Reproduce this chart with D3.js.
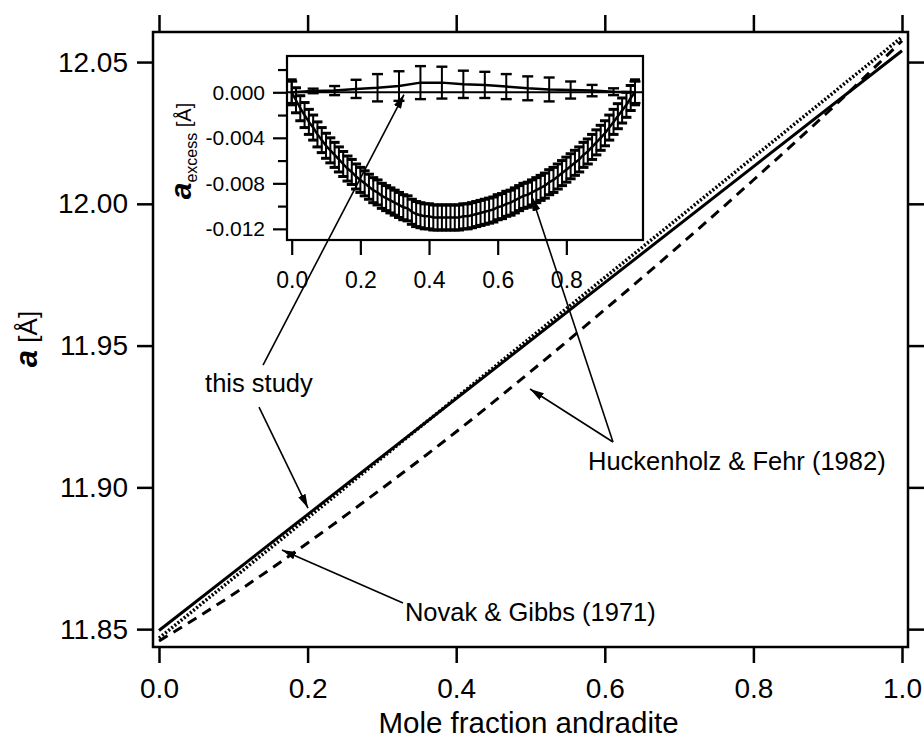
<!doctype html>
<html>
<head>
<meta charset="utf-8">
<title>cell parameter a vs mole fraction andradite</title>
<script src="https://cdn.jsdelivr.net/npm/d3@7/dist/d3.min.js"></script>
<style>
  body { margin: 0; background: #fff; }
  svg { display: block; font-family: "Liberation Sans", Arial, Helvetica, sans-serif; }
  .axis path { display: none; }
  .axis line { stroke: #000; stroke-width: 2.5; }
  .axis text { fill: #000; }
  .frame { fill: none; stroke: #000; stroke-width: 2.5; }
</style>
</head>
<body>
<script>
// ---- main plot data (a in Angstrom vs mole fraction andradite)
var endX   = [0, 1];
var studyA = [11.8495, 12.0540];          // this study, solid
var novakA = [11.8468, 12.0588];          // Novak & Gibbs (1971), dotted
var hfX    = [0, 0.1, 0.2, 0.3, 0.4, 0.5, 0.6, 0.7, 0.8, 0.9, 1.0];
var hfA    = [11.8458, 11.8623, 11.8804, 11.8996, 11.9196, 11.9408,
              11.9627, 11.9852, 12.0084, 12.0323, 12.0575];   // Huckenholz & Fehr, dashed
var xTicks = [0, 0.2, 0.4, 0.6, 0.8, 1.0];
var yTicks = [11.85, 11.90, 11.95, 12.00, 12.05];

// ---- inset data (excess a)
var studyExX  = [0, 0.0625, 0.125, 0.1875, 0.25, 0.3125, 0.375, 0.4375, 0.5,
                 0.5625, 0.625, 0.6875, 0.75, 0.8125, 0.875, 0.9375, 1.0];
var studyEx   = [0, 0.00012, 0.00015, 0.0003, 0.0004, 0.00055, 0.00085, 0.00085, 0.0007,
                 0.00065, 0.0005, 0.00035, 0.00025, 0.0002, 0.00015, 0.00005, 0];
var studyErr  = [0.00095, 0.0002, 0.0004, 0.0008, 0.0012, 0.0013, 0.00145, 0.0014, 0.0012,
                 0.00115, 0.0011, 0.00105, 0.00105, 0.00075, 0.0005, 0.0003, 0.00095];
var hfExX = [0, 0.0125, 0.025, 0.0375, 0.05, 0.0625, 0.075, 0.0875, 0.1, 0.1125,
             0.125, 0.1375, 0.15, 0.1625, 0.175, 0.1875, 0.2, 0.2125, 0.225, 0.2375,
             0.25, 0.2625, 0.275, 0.2875, 0.3, 0.3125, 0.325, 0.3375, 0.35, 0.3625,
             0.375, 0.3875, 0.4, 0.4125, 0.425, 0.4375, 0.45, 0.4625, 0.475, 0.4875,
             0.5, 0.5125, 0.525, 0.5375, 0.55, 0.5625, 0.575, 0.5875, 0.6, 0.6125,
             0.625, 0.6375, 0.65, 0.6625, 0.675, 0.6875, 0.7, 0.7125, 0.725, 0.7375,
             0.75, 0.7625, 0.775, 0.7875, 0.8, 0.8125, 0.825, 0.8375, 0.85, 0.8625,
             0.875, 0.8875, 0.9, 0.9125, 0.925, 0.9375, 0.95, 0.9625, 0.975, 0.9875, 1.0];
var hfEx = [0, -0.0007, -0.0014, -0.0020, -0.0026, -0.0031, -0.0037, -0.0042, -0.0047, -0.0051,
            -0.0055, -0.0059, -0.0063, -0.0067, -0.0070, -0.0074, -0.0077, -0.0080, -0.0083, -0.0086,
            -0.0088, -0.0091, -0.0093, -0.0095, -0.0097, -0.0099, -0.0101, -0.0102, -0.0105, -0.0107,
            -0.0108, -0.0109, -0.0109, -0.0110, -0.0110, -0.0110, -0.0110, -0.0110, -0.0110, -0.0110,
            -0.0109, -0.0109, -0.0108, -0.0107, -0.0106, -0.0105, -0.0104, -0.0103, -0.0101, -0.0100,
            -0.0098, -0.0097, -0.0095, -0.0093, -0.0091, -0.0090, -0.0088, -0.0086, -0.0084, -0.0082,
            -0.0079, -0.0077, -0.0074, -0.0071, -0.0068, -0.0065, -0.0062, -0.0059, -0.0055, -0.0052,
            -0.0048, -0.0044, -0.0040, -0.0036, -0.0031, -0.0026, -0.0021, -0.0016, -0.0011, -0.0005, 0];
var hfErr = 0.0011;
var insetXTicks = [0, 0.2, 0.4, 0.6, 0.8];
var insetYTicks = [0, -0.004, -0.008, -0.012];
var insetYMinor = [0.002, -0.002, -0.006, -0.010];

var W = 924, H = 738;
var svg = d3.select("body").append("svg").attr("width", W).attr("height", H);

// arrowhead
svg.append("defs").append("marker")
   .attr("id", "arr").attr("viewBox", "0 0 14 8")
   .attr("refX", 14).attr("refY", 4)
   .attr("markerWidth", 14).attr("markerHeight", 8)
   .attr("markerUnits", "userSpaceOnUse").attr("orient", "auto")
   .append("path").attr("d", "M0,0 L14,4 L0,8 Z").attr("fill", "#000");

// ---- main scales
var L = 153, R = 908, T = 32, B = 647;
var x = d3.scaleLinear().domain([-0.00808, 1.00808]).range([L, R]);
var y = d3.scaleLinear().domain([11.8437, 12.0606]).range([B, T]);

svg.append("g").attr("class", "axis").attr("transform", "translate(0," + B + ")")
   .call(d3.axisBottom(x).tickValues(xTicks).tickSize(16).tickPadding(15).tickFormat(d3.format(".1f")))
   .selectAll("text").style("font-size", "28px");
svg.append("g").attr("class", "axis").attr("transform", "translate(0," + T + ")")
   .call(d3.axisTop(x).tickValues(xTicks).tickSize(17).tickFormat(""));
svg.append("g").attr("class", "axis").attr("transform", "translate(" + L + ",0)")
   .call(d3.axisLeft(y).tickValues(yTicks).tickSize(16).tickPadding(9).tickFormat(d3.format(".2f")))
   .selectAll("text").style("font-size", "28px");
svg.append("g").attr("class", "axis").attr("transform", "translate(" + R + ",0)")
   .call(d3.axisRight(y).tickValues(yTicks).tickSize(16).tickFormat(""));

svg.append("rect").attr("class", "frame")
   .attr("x", L).attr("y", T).attr("width", R - L).attr("height", B - T);

// axis titles
svg.append("text").attr("x", (L + R) / 2 - 2).attr("y", 733)
   .attr("text-anchor", "middle").style("font-size", "29.5px")
   .text("Mole fraction andradite");

var yt = svg.append("text").attr("transform", "translate(37,339) rotate(-90)")
   .attr("text-anchor", "middle");
yt.append("tspan").style("font-size", "31px").style("font-weight", "bold").style("font-style", "italic").text("a");
yt.append("tspan").style("font-size", "26px").text(" [Å]");

// ---- main lines
var mainLine = d3.line().x(function(d) { return x(d[0]); }).y(function(d) { return y(d[1]); });
var hfCurve = d3.line().curve(d3.curveMonotoneX)
   .x(function(d) { return x(d[0]); }).y(function(d) { return y(d[1]); });

svg.append("path").datum(d3.zip(hfX, hfA)).attr("d", hfCurve)
   .attr("fill", "none").attr("stroke", "#000").attr("stroke-width", 3)
   .attr("stroke-dasharray", "10,7");
svg.append("path").datum(d3.zip(endX, novakA)).attr("d", mainLine)
   .attr("fill", "none").attr("stroke", "#000").attr("stroke-width", 3.5)
   .attr("stroke-dasharray", "2,2");
svg.append("path").datum(d3.zip(endX, studyA)).attr("d", mainLine)
   .attr("fill", "none").attr("stroke", "#000").attr("stroke-width", 3);

// ---- inset
var iL = 287, iR = 643, iT = 56, iB = 240;
var ix = d3.scaleLinear().domain([-0.0137, 1.0233]).range([iL, iR]);
var iy = d3.scaleLinear().domain([-0.01298, 0.00319]).range([iB, iT]);

var inset = svg.append("g");
inset.append("rect").attr("x", iL).attr("y", iT).attr("width", iR - iL).attr("height", iB - iT)
   .attr("fill", "#fff");

inset.append("g").attr("class", "axis").attr("transform", "translate(0," + iB + ")")
   .call(d3.axisBottom(ix).tickValues(insetXTicks).tickSize(15).tickPadding(17).tickFormat(d3.format(".1f")))
   .selectAll("text").style("font-size", "23px");
inset.append("g").attr("class", "axis").attr("transform", "translate(" + iL + ",0)")
   .call(d3.axisLeft(iy).tickValues(insetYTicks).tickSize(14).tickPadding(8).tickFormat(d3.format(".3f")))
   .selectAll("text").style("font-size", "21px");
inset.append("g").attr("class", "axis").attr("transform", "translate(" + iL + ",0)")
   .call(d3.axisLeft(iy).tickValues(insetYMinor).tickSize(9).tickFormat(""));

inset.selectAll(".axis line").style("stroke-width", 2.2);
inset.selectAll(".axis text").each(function() {
  var t = d3.select(this);
  t.text(t.text().replace("\u2212", "-"));
});

// zero line
inset.append("line").attr("x1", iL).attr("x2", iR).attr("y1", iy(0)).attr("y2", iy(0))
   .attr("stroke", "#000").attr("stroke-width", 2);

var exLine = d3.line().x(function(d) { return ix(d[0]); }).y(function(d) { return iy(d[1]); });

function errBars(g, xs, vs, errs, capW, sw, capSw) {
  var pts = xs.map(function(d, i) { return { x: d, v: vs[i], e: errs[i] }; });
  var bars = g.append("g").attr("stroke", "#000");
  bars.selectAll("line.v").data(pts).join("line").attr("class", "v")
     .attr("x1", function(d) { return ix(d.x); }).attr("x2", function(d) { return ix(d.x); })
     .attr("y1", function(d) { return iy(d.v - d.e); }).attr("y2", function(d) { return iy(d.v + d.e); })
     .attr("stroke-width", sw);
  [1, -1].forEach(function(s) {
    bars.selectAll("line.c" + (s > 0 ? "t" : "b")).data(pts).join("line").attr("class", "c" + (s > 0 ? "t" : "b"))
       .attr("x1", function(d) { return ix(d.x) - capW / 2; }).attr("x2", function(d) { return ix(d.x) + capW / 2; })
       .attr("y1", function(d) { return iy(d.v + s * d.e); }).attr("y2", function(d) { return iy(d.v + s * d.e); })
       .attr("stroke-width", capSw);
  });
}

// Huckenholz & Fehr excess with dense error bars
inset.append("path").datum(d3.zip(hfExX, hfEx)).attr("d", exLine)
   .attr("fill", "none").attr("stroke", "#000").attr("stroke-width", 2.5);
errBars(inset, hfExX, hfEx, hfExX.map(function() { return hfErr; }), 10, 2, 3);

// this study excess
inset.append("path").datum(d3.zip(studyExX, studyEx)).attr("d", exLine)
   .attr("fill", "none").attr("stroke", "#000").attr("stroke-width", 2.5);
errBars(inset, studyExX, studyEx, studyErr, 11, 2, 2.4);

inset.append("rect").attr("class", "frame").style("stroke-width", 2.2)
   .attr("x", iL).attr("y", iT).attr("width", iR - iL).attr("height", iB - iT);

var it = inset.append("text").attr("transform", "translate(191,151) rotate(-90)")
   .attr("text-anchor", "middle");
it.append("tspan").style("font-size", "30px").style("font-weight", "bold").style("font-style", "italic").text("a");
it.append("tspan").style("font-size", "16px").attr("dy", 6).text("excess");
it.append("tspan").style("font-size", "20px").attr("dy", -6).text(" [Å]");

// ---- annotations (positions in data units)
function arrow(p0, p1) {
  svg.append("line").attr("x1", p0[0]).attr("y1", p0[1]).attr("x2", p1[0]).attr("y2", p1[1])
     .attr("stroke", "#000").attr("stroke-width", 1.6).attr("marker-end", "url(#arr)");
}
function label(p, s) {
  svg.append("text").attr("x", p[0]).attr("y", p[1]).style("font-size", "25.5px").text(s);
}
function M(d, v) { return [x(d), y(v)]; }
function I(d, v) { return [ix(d), iy(v)]; }

label(M(0.062, 11.9336), "this study");
arrow(M(0.1346, 11.9283), M(0.2005, 11.8927));
arrow(M(0.140, 11.9431), I(0.327, -0.0002));

label(M(0.5774, 11.9061), "Huckenholz & Fehr (1982)");
arrow(M(0.611, 11.916), M(0.4993, 11.9347));
arrow(M(0.611, 11.916), I(0.700, -0.0092));

label(M(0.331, 11.8528), "Novak & Gibbs (1971)");
arrow(M(0.3284, 11.8592), M(0.1655, 11.8779));
</script>
</body>
</html>
